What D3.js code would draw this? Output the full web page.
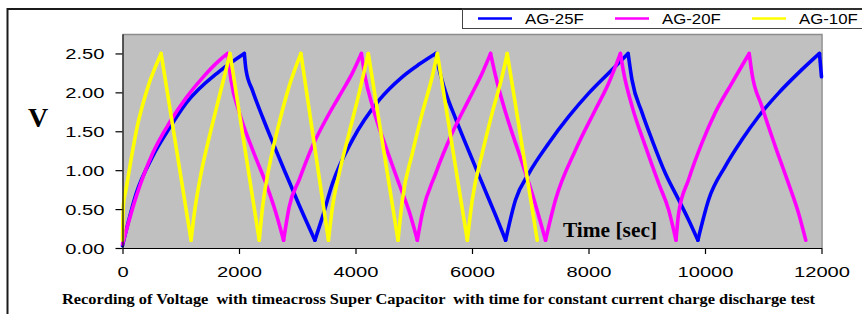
<script src='https://d3js.org/d3.v7.min.js'></script>

<style>
  body {
    margin: 0;
    background: #fff;
  }

  svg text {
    fill: black;
    font-family: Arial, "Liberation Sans", sans-serif;
  }

  .serif {
    font-family: "Times New Roman", "Liberation Serif", serif;
    font-weight: bold;
    white-space: pre;
  }
</style>

<body>
<script>
  var seriesNames = ["AG-25F", "AG-20F", "AG-10F"];
  var seriesColors = ["#0000ff", "#ff00ff", "#ffff00"];

  // AG-25F (blue) time [sec] / voltage [V]
  var ag25Time = [0, 235, 520, 806, 1092, 1663, 2091, 2120, 2234, 2405, 2577, 2806, 3034, 3303,
    3433, 3605, 3948, 4405, 4805, 5091, 5377, 5434, 5548, 5720, 5948, 6176, 6405, 6577,
    6748, 6977, 7320, 7662, 8005, 8348, 8680, 8747, 8919, 9090, 9319, 9547, 9719, 9878,
    10062, 10348, 10633, 10919, 11262, 11605, 11965, 12000];
  var ag25Volt = [0.03, 0.70, 1.18, 1.54, 1.86, 2.27, 2.50, 2.29, 2.02, 1.68, 1.36, 0.95, 0.55, 0.10,
    0.40, 0.83, 1.39, 1.90, 2.20, 2.36, 2.50, 2.30, 2.00, 1.66, 1.24, 0.83, 0.42, 0.10,
    0.62, 0.96, 1.35, 1.69, 1.99, 2.25, 2.50, 2.16, 1.74, 1.39, 0.96, 0.62, 0.36, 0.10,
    0.62, 1.05, 1.39, 1.69, 1.99, 2.25, 2.50, 2.20];

  // AG-20F (magenta)
  var ag20Time = [0, 235, 520, 806, 1092, 1377, 1663, 1805, 1863, 2005, 2234, 2463, 2634, 2765,
    2862, 3034, 3262, 3491, 3720, 3948, 4102, 4160, 4300, 4530, 4760, 4930, 5062,
    5148, 5377, 5662, 5948, 6176, 6319, 6405, 6577, 6805, 7033, 7262,
    7434, 7777, 8120, 8348, 8548, 8605, 8748, 8976, 9205, 9376, 9502,
    9548, 9719, 9948, 10176, 10462, 10759, 10805, 10976, 11205, 11433, 11605, 11730];
  var ag20Volt = [0.05, 0.66, 1.22, 1.61, 1.93, 2.19, 2.41, 2.50, 2.16, 1.74, 1.26, 0.83, 0.45, 0.10,
    0.53, 0.88, 1.31, 1.65, 1.95, 2.25, 2.50, 2.22, 1.80, 1.28, 0.80, 0.45, 0.10,
    0.45, 0.96, 1.48, 1.91, 2.25, 2.50, 2.21, 1.74, 1.22, 0.70, 0.10,
    0.62, 1.26, 1.78, 2.12, 2.50, 2.25, 1.82, 1.31, 0.83, 0.49, 0.10,
    0.45, 0.88, 1.35, 1.74, 2.12, 2.50, 2.25, 1.82, 1.31, 0.83, 0.45, 0.10];

  // AG-10F (yellow)
  var ag10Time = [0, 15, 60, 150, 250, 350, 450, 550, 663, 1177,
    1234, 1349, 1491, 1663, 1777, 1846, 2348,
    2405, 2520, 2691, 2862, 3063, 3536,
    3605, 3720, 3891, 4062, 4220, 4730,
    4805, 4977, 5148, 5320, 5405, 5920,
    6005, 6177, 6348, 6519, 6605, 7120];
  var ag10Volt = [0.10, 0.55, 0.75, 1.15, 1.55, 1.85, 2.10, 2.30, 2.50, 0.10,
    0.45, 0.96, 1.43, 1.95, 2.29, 2.50, 0.10,
    0.53, 1.05, 1.61, 2.08, 2.50, 0.10,
    0.53, 0.96, 1.48, 1.99, 2.50, 0.10,
    0.62, 1.22, 1.74, 2.21, 2.50, 0.10,
    0.62, 1.22, 1.74, 2.21, 2.50, 0.10];

  var yTicks = [0, 0.5, 1, 1.5, 2, 2.5];
  var xTicks = [0, 2000, 4000, 6000, 8000, 10000, 12000];
  var yLabel = "V";
  var xLabel = "Time [sec]";
  var caption = "Recording of Voltage  with timeacross Super Capacitor  with time for constant current charge discharge test";

  var allTimes = [ag25Time, ag20Time, ag10Time];
  var allVolts = [ag25Volt, ag20Volt, ag10Volt];

  var svg = d3.select("body")
    .append("svg")
    .attr("width", 862)
    .attr("height", 314);

  var x = d3.scaleLinear().domain([0, 12000]).range([122.5, 821.5]);
  var y = d3.scaleLinear().domain([0, 2.75]).range([248, 34]);

  // outer frame (left + top) and legend box
  svg.append("path")
    .attr("d", "M7.5,314V9H862")
    .attr("fill", "none")
    .attr("stroke", "#1a1a1a")
    .attr("stroke-width", 2);

  svg.append("rect")
    .attr("x", 462.5)
    .attr("y", 9)
    .attr("width", 420)
    .attr("height", 19.5)
    .attr("fill", "none")
    .attr("stroke", "#444");

  // plot area
  svg.append("rect")
    .attr("x", x(0))
    .attr("y", y(2.75))
    .attr("width", x(12000) - x(0))
    .attr("height", y(0) - y(2.75))
    .attr("fill", "#c0c0c0");

  svg.append("path")
    .attr("d", "M" + x(0) + "," + (y(2.75) + 0.5) + "H" + (x(12000) + 0.5) + "V" + y(0))
    .attr("fill", "none")
    .attr("stroke", "#8c8c8c")
    .attr("stroke-width", 1.5);

  // split a series into rising / falling pieces so the peaks stay sharp
  function pieces(pts) {
    var segs = [], cur = [pts[0]];
    for (var i = 1; i < pts.length; i++) {
      cur.push(pts[i]);
      if (i < pts.length - 1) {
        var d1 = pts[i][1] - pts[i - 1][1],
          d2 = pts[i + 1][1] - pts[i][1];
        if (d1 * d2 < 0) {
          segs.push(cur);
          cur = [pts[i]];
        }
      }
    }
    segs.push(cur);
    return segs;
  }

  var line = d3.line()
    .x(function(d) { return x(d[0]); })
    .y(function(d) { return y(d[1]); })
    .curve(d3.curveMonotoneX);

  allTimes.forEach(function(times, s) {
    var pts = times.map(function(t, i) { return [t, allVolts[s][i]]; });
    svg.append("g")
      .selectAll("path")
      .data(pieces(pts))
      .enter()
      .append("path")
      .attr("d", line)
      .attr("fill", "none")
      .attr("stroke", seriesColors[s])
      .attr("stroke-width", 3.6)
      .attr("stroke-linejoin", "round")
      .attr("stroke-linecap", "round");
  });

  // axes
  var yAxis = svg.append("g")
    .attr("transform", "translate(" + x(0) + ",0)")
    .call(d3.axisLeft(y).tickValues(yTicks).tickSize(7).tickSizeOuter(0).tickFormat(d3.format(".2f")));

  var xAxis = svg.append("g")
    .attr("transform", "translate(0," + y(0) + ")")
    .call(d3.axisBottom(x).tickValues(xTicks).tickSize(6).tickSizeOuter(0).tickFormat(d3.format("d")));

  svg.selectAll(".domain, .tick line").attr("stroke", "#000").attr("stroke-width", 1.2);

  yAxis.selectAll("text")
    .attr("x", null)
    .attr("dy", null)
    .attr("font-size", "15.5px")
    .attr("font-family", "Arial, 'Liberation Sans', sans-serif")
    .attr("transform", "translate(-18,5.5) scale(1.3,1)");

  xAxis.selectAll("text")
    .attr("y", null)
    .attr("dy", null)
    .attr("font-size", "15.5px")
    .attr("font-family", "Arial, 'Liberation Sans', sans-serif")
    .attr("transform", "translate(0,29) scale(1.3,1)");

  // legend
  var legendX = [478, 615, 752];
  seriesNames.forEach(function(name, i) {
    svg.append("line")
      .attr("x1", legendX[i])
      .attr("x2", legendX[i] + 34)
      .attr("y1", 18.5)
      .attr("y2", 18.5)
      .attr("stroke", seriesColors[i])
      .attr("stroke-width", 2.5);
    svg.append("text")
      .attr("transform", "translate(" + (legendX[i] + 47) + ",23.5) scale(1.2,1)")
      .attr("font-size", "14px")
      .text(name);
  });

  // labels
  svg.append("text")
    .attr("class", "serif")
    .attr("x", 38)
    .attr("y", 127)
    .attr("text-anchor", "middle")
    .attr("font-size", "28px")
    .text(yLabel);

  svg.append("text")
    .attr("class", "serif")
    .attr("x", 563)
    .attr("y", 237)
    .attr("font-size", "21px")
    .attr("textLength", 94)
    .attr("lengthAdjust", "spacingAndGlyphs")
    .text(xLabel);

  svg.append("text")
    .attr("class", "serif")
    .attr("x", 62)
    .attr("y", 304)
    .attr("font-size", "15px")
    .attr("textLength", 753)
    .attr("lengthAdjust", "spacingAndGlyphs")
    .text(caption);
</script>
</body>
